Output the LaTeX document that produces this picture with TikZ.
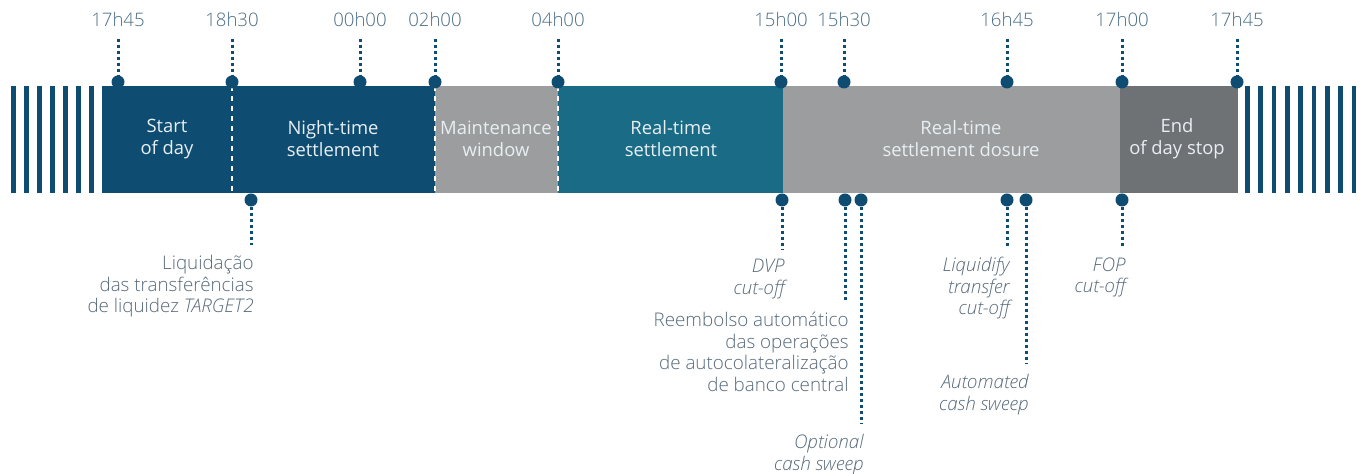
\documentclass[tikz,border=0pt]{standalone}
\usepackage{fontspec}
\setmainfont{Open Sans}
\IfFontExistsTF{Open Sans Light}{\newfontfamily\thinfont{Open Sans Light}}{\newfontfamily\thinfont{Open Sans}}
\definecolor{navy}{HTML}{0F4C71}
\definecolor{teal}{HTML}{1A6B86}
\definecolor{lgray}{HTML}{9B9D9E}
\definecolor{dgray}{HTML}{6E7274}
\definecolor{hourc}{HTML}{4A6E86}
\definecolor{notec}{HTML}{56697A}
\definecolor{phasec}{HTML}{E8EFF3}
\begin{document}
\begin{tikzpicture}[x = 0.5pt, y = -0.5pt,
		tick/.style = {circle, fill = navy, inner sep = 0pt, minimum size = 6.5pt},
		pin/.style = {navy, line width = 1.5pt, dash pattern = on 1.5pt off 1.5pt},
		cut/.style = {white, line width = 1pt, dash pattern = on 2.5pt off 2.5pt},
		hour/.style = {text = hourc, inner sep = 0pt, font = \thinfont\fontsize{9.3}{11}\selectfont},
		phase/.style = {text = phasec, align = center, font = \fontsize{9.2}{11}\selectfont},
		note/.style = {text = notec, align = right, anchor = north east, inner sep = 0pt,
			font = \thinfont\fontsize{9.4}{10.8}\selectfont}]
		\useasboundingbox (0, 0) rectangle (1362, 474);
		% stripes
		\foreach \i in {0, ..., 6} \fill[navy] (11 + 13*\i, 86) rectangle ++(5, 107);
		\foreach \i in {0, ..., 8} \fill[navy] (1245 + 13.33*\i, 86) rectangle ++(4.6, 107);
		% phases
		\fill[navy] (102, 86) rectangle (435, 193);
		\fill[lgray] (435, 86) rectangle (558, 193);
		\fill[teal] (558, 86) rectangle (783, 193);
		\fill[lgray] (783, 86) rectangle (1120, 193);
		\fill[dgray] (1120, 86) rectangle (1238, 193);
		\draw[cut] (232, 86) -- (232, 193);
		\draw[cut] (435, 86) -- (435, 193);
		\draw[cut] (558, 86) -- (558, 193);
		\node[phase] (p1) at (167, 139) {Start\\of day};
		\node[phase] (p2) at (333, 139) {Night-time\\settlement};
		\node[phase] (p3) at (496, 139) {Maintenance\\window};
		\node[phase] (p4) at (671, 139) {Real-time\\settlement};
		\node[phase] (p5) at (961, 139) {Real-time\\settlement dosure};
		\node[phase] (p6) at (1177, 139) {End\\of day stop};
		% hours
		\foreach \x/\t [count = \k] in {118/17h45, 232/18h30, 360/00h00, 435/02h00, 558/04h00,
				781/15h00, 844/15h30, 1007/16h45, 1122/17h00, 1237/17h45} {
			\node[hour] (h\k) at (\x, 20) {\t};
			\node[tick] (d\k) at (\x, 82) {};
			\draw[pin, shorten <= 5.5pt] (h\k.south) -- (d\k);
		}
		% events
		\node[tick] (b1) at (251, 200) {};
		\node[tick] (b2) at (782, 200) {};
		\node[tick] (b3) at (845, 200) {};
		\node[tick] (b4) at (861, 200) {};
		\node[tick] (b5) at (1007, 200) {};
		\node[tick] (b6) at (1026, 200) {};
		\node[tick] (b7) at (1122, 200) {};
		\node[note] (n1) at (254, 255) {Liquidação\\das transferências\\de liquidez \textit{TARGET2}};
		\node[note] (n2) at (785, 259) {\itshape DVP\\\itshape cut-off};
		\node[note] (n3) at (849, 312) {Reembolso automático\\das operações\\de autocolateralização\\de banco central};
		\node[note] (n4) at (864, 434) {\itshape Optional\\\itshape cash sweep};
		\node[note] (n5) at (1010, 257) {\itshape Liquidify\\\itshape transfer\\\itshape cut-off};
		\node[note] (n6) at (1029, 374) {\itshape Automated\\\itshape cash sweep};
		\node[note] (n7) at (1126, 257) {\itshape FOP\\\itshape cut-off};
		\foreach \k in {1, ..., 7}
			\draw[pin, shorten > = 5pt] (b\k) -- (b\k |- n\k.north);
	\end{tikzpicture}
\end{document}
